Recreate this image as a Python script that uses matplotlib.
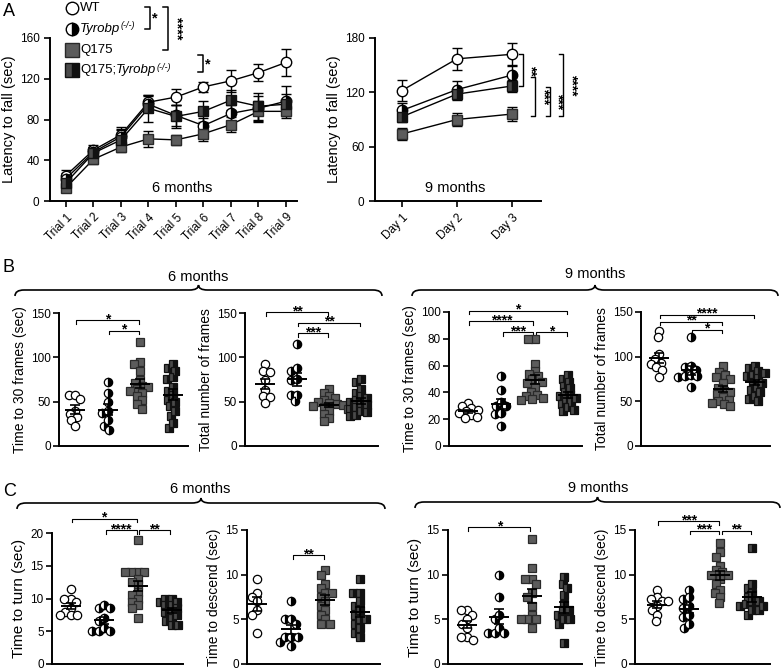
import numpy as np
import matplotlib
matplotlib.use("Agg")
import matplotlib.pyplot as plt
from matplotlib.path import Path
from matplotlib.patches import PathPatch

plt.rcParams['font.family'] = ['Liberation Sans', 'DejaVu Sans']

# ---------------- data ----------------
groups = ["WT", "Tyrobp", "Q175", "Q175;Tyrobp"]

trials = ["Trial 1", "Trial 2", "Trial 3", "Trial 4", "Trial 5", "Trial 6", "Trial 7", "Trial 8", "Trial 9"]
wt6 = [25, 50, 65, 97, 102, 112, 118, 126, 136]
wt6_err = [5, 5, 8, 7, 8, 5, 11, 8, 13]
ty6 = [22, 48, 63, 95, 84, 74, 86, 91, 98]
ty6_err = [5, 5, 8, 8, 10, 7, 8, 12, 15]
q6 = [13, 41, 53, 61, 60, 66, 75, 88, 88]
q6_err = [4, 5, 5, 8, 5, 7, 7, 10, 7]
qt6 = [18, 47, 60, 91, 83, 88, 99, 93, 95]
qt6_err = [6, 6, 10, 13, 11, 10, 10, 13, 10]

days = ["Day 1", "Day 2", "Day 3"]
wt9 = [122, 157, 162]
wt9_err = [12, 12, 12]
ty9 = [100, 123, 139]
ty9_err = [8, 10, 10]
q9 = [74, 90, 96]
q9_err = [7, 7, 8]
qt9 = [93, 118, 127]
qt9_err = [6, 6, 7]

b6_t30_wt = [57, 58, 53, 40, 36, 33, 29, 22]
b6_t30_ty = [72, 60, 50, 40, 37, 29, 23, 18]
b6_t30_q = [117, 95, 92, 85, 75, 71, 68, 66, 64, 62, 60, 56, 52, 47, 42]
b6_t30_qt = [92, 88, 85, 78, 76, 66, 62, 57, 52, 50, 45, 40, 34, 26, 20]
b6_tot_wt = [92, 85, 84, 75, 63, 56, 55, 48]
b6_tot_ty = [115, 88, 85, 76, 74, 58, 57, 51]
b6_tot_q = [64, 60, 56, 54, 52, 50, 48, 47, 46, 45, 44, 42, 40, 36, 32, 28]
b6_tot_qt = [76, 72, 64, 60, 56, 54, 52, 50, 48, 46, 44, 42, 40, 38, 35, 34]

b9_t30_wt = [32, 30, 28, 27, 26, 25, 23, 22, 21]
b9_t30_ty = [52, 42, 33, 30, 30, 25, 24, 15]
b9_t30_q = [80, 80, 61, 56, 54, 52, 50, 48, 47, 44, 40, 38, 37, 36, 35, 34]
b9_t30_qt = [53, 50, 48, 45, 43, 40, 38, 37, 36, 35, 33, 31, 29, 27, 26]
b9_tot_wt = [129, 122, 103, 97, 93, 92, 88, 85, 77]
b9_tot_ty = [122, 90, 88, 85, 80, 78, 78, 77, 66]
b9_tot_q = [89, 83, 80, 77, 75, 70, 65, 62, 60, 58, 55, 52, 50, 48, 47, 45]
b9_tot_qt = [90, 87, 84, 82, 80, 78, 76, 72, 70, 66, 63, 60, 56, 53, 50]

c6_turn_wt = [11.5, 10, 10, 9.5, 8.5, 8, 7.5, 7.5, 7.5]
c6_turn_ty = [9, 8.5, 8.5, 7, 6.5, 5.5, 5, 5, 5]
c6_turn_q = [19, 14, 14, 14, 14, 13, 12.5, 12, 11, 10.5, 10, 9.5, 9, 8.5, 7]
c6_turn_qt = [10, 10, 9.5, 9.5, 9, 9, 8.5, 8, 8, 7.5, 7, 6.5, 6, 6]
c6_desc_wt = [9.5, 8, 7.5, 7, 6, 5.5, 3.5]
c6_desc_ty = [7, 5, 5, 4.5, 3, 3, 3, 2.5, 2]
c6_desc_q = [10.5, 10, 9, 8.5, 8, 8, 7.5, 7, 6.5, 6, 5.5, 5, 4.5, 4.5]
c6_desc_qt = [9.5, 8, 8, 7, 6.5, 6, 5.5, 5, 5, 4.5, 4, 3.5, 3]

c9_turn_wt = [6, 6, 5.5, 5, 4.5, 4, 3, 3, 2.7]
c9_turn_ty = [10, 7.5, 5.5, 5, 4, 3.5, 3.5, 3.5]
c9_turn_q = [14, 10.7, 9.5, 9.5, 9, 8, 7.5, 6.5, 5.5, 5, 5, 5, 4]
c9_turn_qt = [9.7, 9, 8.5, 7.7, 6.7, 6, 6, 5.5, 5, 5, 4.5, 2.3]
c9_desc_wt = [8.3, 7.5, 7.3, 7, 7, 6.5, 6, 5.5, 4.8]
c9_desc_ty = [8.3, 7.5, 7.3, 6.5, 6.3, 5.5, 5.3, 4.5, 4]
c9_desc_q = [13.5, 12.5, 12, 11, 10.5, 10.3, 10, 10, 9.5, 9, 8.3, 8, 7.5, 6.8]
c9_desc_qt = [13, 9, 8.5, 8, 7.5, 7, 7, 6.7, 6.5, 6.5, 6, 6, 5.5]

# ---------------- styles ----------------
STY = [
    dict(marker='o', markerfacecolor='white', markeredgecolor='black'),
    dict(marker='o', markerfacecolor='black', markerfacecoloralt='white',
         markeredgecolor='black', fillstyle='right'),
    dict(marker='s', markerfacecolor='#5c5c5c', markeredgecolor='#2a2a2a'),
    dict(marker='s', markerfacecolor='#111111', markerfacecoloralt='#4a4a4a',
         markeredgecolor='#111111', fillstyle='right'),
]

W, H = 783, 671
fig = plt.figure(figsize=(W / 100, H / 100), dpi=100)


def add_ax(x0, x1, ytop, ybot):
    ax = fig.add_axes([x0 / W, 1 - ybot / H, (x1 - x0) / W, (ybot - ytop) / H])
    for s in ['top', 'right']:
        ax.spines[s].set_visible(False)
    for s in ['left', 'bottom']:
        ax.spines[s].set_linewidth(1.4)
    ax.patch.set_alpha(0)
    return ax


# overlay in pixel coordinates
ov = fig.add_axes([0, 0, 1, 1], zorder=20)
ov.set_xlim(0, W)
ov.set_ylim(H, 0)
ov.axis('off')
ov.patch.set_alpha(0)

# ---------------- panel A ----------------
axA1 = add_ax(50, 297, 38, 201)
xi = np.arange(len(trials))
for vals, err, st in zip([wt6, ty6, q6, qt6], [wt6_err, ty6_err, q6_err, qt6_err], STY):
    axA1.errorbar(xi, vals, yerr=err, color='black', lw=1.0, capsize=3.5, capthick=1.0,
                  markersize=7.5, markeredgewidth=1.0, clip_on=False, **st)
axA1.set_xlim(-0.58, 8.4)
axA1.set_ylim(0, 160)
axA1.set_yticks([0, 40, 80, 120, 160])
axA1.set_xticks(xi)
axA1.set_xticklabels(trials, rotation=45, ha='right', rotation_mode='anchor', fontsize=8.5)
axA1.tick_params(axis='both', length=4, width=1.2, labelsize=8.5)
axA1.tick_params(axis='x', labelsize=8.5)
axA1.set_ylabel("Latency to fall (sec)", fontsize=10.5, labelpad=3)

axA2 = add_ax(375, 541, 38, 201)
xd = np.arange(len(days))
for vals, err, st in zip([wt9, ty9, q9, qt9], [wt9_err, ty9_err, q9_err, qt9_err], STY):
    axA2.errorbar(xd, vals, yerr=err, color='black', lw=1.0, capsize=3.5, capthick=1.0,
                  markersize=7.5, markeredgewidth=1.0, clip_on=False, **st)
axA2.set_xlim(-0.49, 2.53)
axA2.set_ylim(0, 180)
axA2.set_yticks([0, 60, 120, 180])
axA2.set_xticks(xd)
axA2.set_xticklabels(days, rotation=45, ha='right', rotation_mode='anchor', fontsize=8.5)
axA2.tick_params(axis='both', length=4, width=1.2, labelsize=8.5)
axA2.tick_params(axis='x', labelsize=8.5)
axA2.set_ylabel("Latency to fall (sec)", fontsize=10.5, labelpad=3)

ov.text(182, 188, "6 months", ha='center', va='center', fontsize=10.5)
ov.text(455, 188, "9 months", ha='center', va='center', fontsize=10.5)

# vertical brackets at right of 9-month plot (data coords)
def vbracket(ax, x, y1, y2, txt, tick=0.07):
    ax.plot([x - tick, x, x, x - tick], [y1, y1, y2, y2], color='black', lw=1.0, clip_on=False)
    ax.text(x + 0.02, (y1 + y2) / 2, txt, rotation=270, ha='left', va='center',
            fontsize=10, fontweight='bold', clip_on=False)

vbracket(axA2, 2.2, 162, 127, "**")
vbracket(axA2, 2.42, 137, 94, "***")
vbracket(axA2, 2.69, 126, 94, "***")
vbracket(axA2, 2.93, 162, 94, "****")

# legend
leg_y = [8, 29, 50, 70]
for yy, st in zip(leg_y, STY):
    ov.plot([72], [yy], markersize=9 if st['marker'] == 'o' else 9.5,
            markeredgewidth=1.0, linestyle='none', **st)
ov.text(80, 8, "WT", va='center', ha='left', fontsize=9.5)
t = ov.text(80, 29, "Tyrobp", va='center', ha='left', fontsize=9.5, style='italic')
ov.annotate("(-/-)", xy=(1, 0.75), xycoords=t, va='center', ha='left', fontsize=6.5, style='italic')
ov.text(80, 50, "Q175", va='center', ha='left', fontsize=9.5)
t1 = ov.text(80, 70, "Q175;", va='center', ha='left', fontsize=9.5)
t2 = ov.annotate("Tyrobp", xy=(1, 0.5), xycoords=t1, va='center', ha='left', fontsize=9.5, style='italic')
ov.annotate("(-/-)", xy=(1, 0.75), xycoords=t2, va='center', ha='left', fontsize=6.5, style='italic')


def pbracket(x, y1, y2, txt, tx, ty, rot=0):
    ov.plot([x - 5, x, x, x - 5], [y1, y1, y2, y2], color='black', lw=1.1)
    ov.text(tx, ty, txt, rotation=rot, ha='left', va='center', fontsize=10.5, fontweight='bold')

pbracket(150, 7, 29, "*", 152, 18)
pbracket(168, 7, 50, "****", 170, 28, rot=270)
pbracket(203, 55, 72, "*", 205, 64)

# ---------------- panels B & C ----------------
def swarm(vals, d_px, ppy, ppx):
    vals = np.asarray(vals, float)
    order = np.argsort(-vals)
    placed = []
    offs = np.zeros(len(vals))
    for i in order:
        y = vals[i] * ppy
        cands = [0.0]
        ivs = []
        for (px, py) in placed:
            dy = abs(py - y)
            if dy < d_px:
                dx = np.sqrt(d_px ** 2 - dy ** 2)
                ivs.append((px - dx, px + dx))
                cands += [px - dx, px + dx]
        cands = sorted(cands, key=lambda c: (abs(c), c))
        for c in cands:
            if all(not (a + 1e-6 < c < b - 1e-6) for a, b in ivs):
                break
        placed.append((c, y))
        offs[i] = c / ppx
    return offs


def dot_panel(box, xlim, ymax, yticks, ylabel, data, sigs, lab_fs=10):
    x0, x1, ytop, ybot = box
    ax = add_ax(x0, x1, ytop, ybot)
    ax.set_xlim(*xlim)
    ax.set_ylim(0, ymax)
    ppy = (ybot - ytop) / ymax
    ppx = (x1 - x0) / (xlim[1] - xlim[0])
    for g, (vals, st) in enumerate(zip(data, STY)):
        offs = swarm(vals, 6.4, ppy, ppx)
        ax.plot(g + offs, vals, linestyle='none', markersize=6.0, markeredgewidth=0.9,
                clip_on=False, zorder=3, **st)
        m = np.mean(vals)
        se = np.std(vals, ddof=1) / np.sqrt(len(vals))
        hw = 10 / ppx
        ax.plot([g - hw, g + hw], [m, m], color='black', lw=1.4, zorder=5,
                solid_capstyle='butt')
        ax.errorbar(g, m, yerr=se, color='black', lw=1.2, capsize=3.5, capthick=1.2, zorder=5)
    tick = 3.5 / ppy
    for (g1, g2, y, txt) in sigs:
        a = g1 + 0.04
        b = g2 - 0.04
        ax.plot([a, a, b, b], [y - tick, y, y, y - tick], color='black', lw=0.8, clip_on=False)
        ax.annotate(txt, xy=((g1 + g2) / 2, y), xytext=(0, -2.2), textcoords='offset points',
                    ha='center', va='baseline', fontsize=10, fontweight='bold',
                    annotation_clip=False)
    ax.set_xticks([])
    ax.set_yticks(yticks)
    ax.tick_params(axis='y', length=4, width=1.2, labelsize=8.5, pad=2)
    ax.set_ylabel(ylabel, fontsize=lab_fs, labelpad=3)
    return ax


dot_panel((59, 188, 313, 446), (-0.49, 3.46), 150, [0, 50, 100, 150], "Time to 30 frames (sec)",
          [b6_t30_wt, b6_t30_ty, b6_t30_q, b6_t30_qt], [(0, 2, 142, '*'), (1, 2, 130, '*')])
dot_panel((245, 378, 313, 446), (-0.625, 3.53), 150, [0, 50, 100, 150], "Total number of frames",
          [b6_tot_wt, b6_tot_ty, b6_tot_q, b6_tot_qt],
          [(0, 2, 151, '**'), (1, 3, 139, '**'), (1, 2, 127, '***')])
dot_panel((449, 582, 312, 446), (-0.57, 3.42), 100, [0, 20, 40, 60, 80, 100], "Time to 30 frames (sec)",
          [b9_t30_wt, b9_t30_ty, b9_t30_q, b9_t30_qt],
          [(0, 3, 101, '*'), (0, 2, 93, '****'), (1, 2, 85, '***'), (2, 3, 85, '*')])
dot_panel((641, 770, 312, 446), (-0.56, 3.47), 150, [0, 50, 100, 150], "Total number of frames",
          [b9_tot_wt, b9_tot_ty, b9_tot_q, b9_tot_qt],
          [(0, 3, 147, '****'), (0, 2, 139, '**'), (1, 2, 130, '*')])

dot_panel((52, 183, 533, 664), (-0.55, 3.34), 20, [0, 5, 10, 15, 20], "Time to turn (sec)",
          [c6_turn_wt, c6_turn_ty, c6_turn_q, c6_turn_qt],
          [(0, 2, 22.2, '*'), (1, 2, 20.4, '****'), (2, 3, 20.4, '**')], lab_fs=11)
dot_panel((247, 380, 530, 664), (-0.29, 3.59), 15, [0, 5, 10, 15], "Time to descend (sec)",
          [c6_desc_wt, c6_desc_ty, c6_desc_q, c6_desc_qt], [(1, 2, 12.2, '**')])
dot_panel((448, 582, 530, 664), (-0.59, 3.56), 15, [0, 5, 10, 15], "Time to turn (sec)",
          [c9_turn_wt, c9_turn_ty, c9_turn_q, c9_turn_qt], [(0, 2, 15.3, '*')], lab_fs=11)
dot_panel((635, 770, 530, 664), (-0.69, 3.56), 15, [0, 5, 10, 15], "Time to descend (sec)",
          [c9_desc_wt, c9_desc_ty, c9_desc_q, c9_desc_qt],
          [(0, 2, 16.0, '***'), (1, 2, 14.9, '***'), (2, 3, 14.9, '**')])


# braces
def brace(xa, xb, y, h=6, tip=5, r=9):
    xm = (xa + xb) / 2
    verts = [(xa, y + h), (xa, y), (xa + r, y), (xm - r, y), (xm, y), (xm, y - tip),
             (xm, y), (xm + r, y), (xb - r, y), (xb, y), (xb, y + h)]
    codes = [Path.MOVETO, Path.CURVE3, Path.CURVE3, Path.LINETO, Path.CURVE3, Path.CURVE3,
             Path.CURVE3, Path.CURVE3, Path.LINETO, Path.CURVE3, Path.CURVE3]
    ov.add_patch(PathPatch(Path(verts, codes), facecolor='none', edgecolor='black', lw=1.2))

brace(15, 382, 290)
brace(412, 778, 290)
brace(17, 385, 503)
brace(415, 780, 502)
ov.text(198, 277, "6 months", ha='center', va='center', fontsize=10.5)
ov.text(595, 274, "9 months", ha='center', va='center', fontsize=10.5)
ov.text(200, 489, "6 months", ha='center', va='center', fontsize=10.5)
ov.text(598, 488, "9 months", ha='center', va='center', fontsize=10.5)

# panel letters
ov.text(3, 12, "A", ha='left', va='center', fontsize=13)
ov.text(3, 268, "B", ha='left', va='center', fontsize=13)
ov.text(3, 492, "C", ha='left', va='center', fontsize=13)

fig.savefig("out.png", dpi=100)
